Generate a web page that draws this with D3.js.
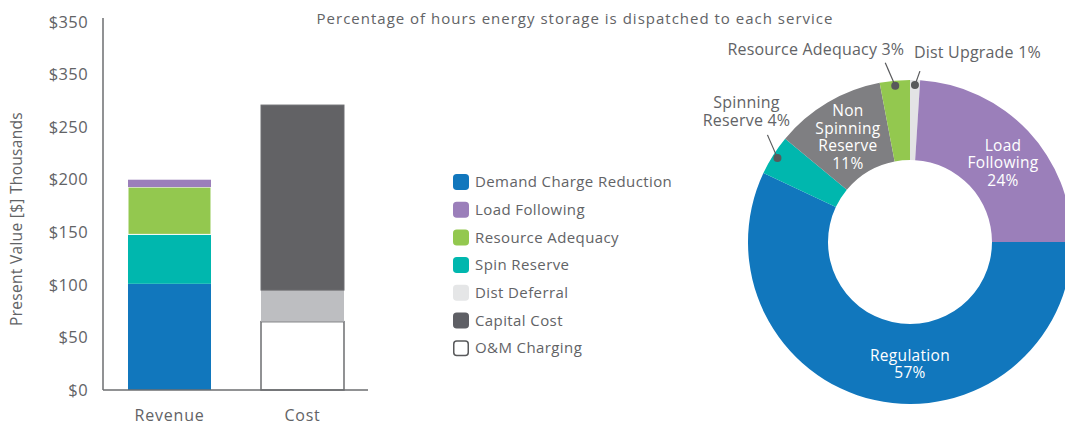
<!DOCTYPE html>
<html>
<head>
<meta charset="utf-8">
<script src="https://cdn.jsdelivr.net/npm/d3@7"></script>
<style>
    body { margin: 0; background: #fff; }
    svg { font-family: "Open Sans", sans-serif; }
</style>
</head>
<body>
<svg id="chart" width="1065" height="425"></svg>
<script>
// bar chart data (values in $ thousands)
const categories = ['Revenue', 'Cost'];
const seriesNames = ['Demand Charge Reduction', 'Spin Reserve', 'Resource Adequacy', 'Load Following',
    'O&M Charging', 'Dist Deferral', 'Capital Cost'];
const revenueValues = [101, 47, 45, 7, 0, 0, 0];
const costValues = [0, 0, 0, 0, 65, 30, 176];
const tickValues = [0, 50, 100, 150, 200, 250, 300, 350];
const tickLabels = ['$0', '$50', '$100', '$150', '$200', '$250', '$350', '$350'];

// legend order
const legendNames = ['Demand Charge Reduction', 'Load Following', 'Resource Adequacy', 'Spin Reserve',
    'Dist Deferral', 'Capital Cost', 'O&M Charging'];

// donut data
const serviceNames = ['Dist Upgrade', 'Load Following', 'Regulation', 'Spinning Reserve',
    'Non Spinning Reserve', 'Resource Adequacy'];
const servicePercents = [1, 24, 57, 4, 11, 3];

const title = 'Percentage of hours energy storage is dispatched to each service';

const barColors = {
    'Demand Charge Reduction': '#1177bd',
    'Load Following': '#9b7fba',
    'Resource Adequacy': '#93c84f',
    'Spin Reserve': '#00b7ae',
    'Dist Deferral': '#bdbec1',
    'Capital Cost': '#626265',
    'O&M Charging': '#ffffff'
};
const legendColors = Object.assign({}, barColors, { 'Dist Deferral': '#e5e6e7', 'Capital Cost': '#5e5f65' });

const pieColors = {
    'Dist Upgrade': '#e3e3e5',
    'Load Following': '#9b7fba',
    'Regulation': '#1177bd',
    'Spinning Reserve': '#00b7ae',
    'Non Spinning Reserve': '#7f7f82',
    'Resource Adequacy': '#93c84f'
};

const textColor = '#626366';
const axisColor = '#6d6e71';

const svg = d3.select('#chart');

// ---------- stacked bars ----------
const rows = categories.map((c, i) => {
    const vals = i === 0 ? revenueValues : costValues;
    const row = { category: c };
    seriesNames.forEach((s, j) => row[s] = vals[j]);
    return row;
});

const stacked = d3.stack().keys(seriesNames)(rows);

const x = d3.scaleBand()
    .domain(categories)
    .range([103, 369])
    .paddingInner(0.376)
    .paddingOuter(0.188);

const y = d3.scaleLinear()
    .domain([0, 350])
    .range([390, 22]);

const barG = svg.append('g');

stacked.forEach(layer => {
    barG.selectAll(null)
        .data(layer.filter(d => d[1] - d[0] > 0))
        .join('rect')
        .attr('x', d => x(d.data.category))
        .attr('width', x.bandwidth())
        .attr('y', d => y(d[1]))
        .attr('height', d => y(d[0]) - y(d[1]))
        .attr('fill', barColors[layer.key])
        .attr('stroke', layer.key === 'O&M Charging' || layer.key === 'Capital Cost' ? axisColor
            : (layer.key === 'Resource Adequacy' ? '#fff' : 'none'))
        .attr('stroke-width', layer.key === 'O&M Charging' ? 1.5 : 1);
});

// y axis (no tick marks)
const yAxis = svg.append('g')
    .attr('transform', 'translate(103,0)')
    .call(d3.axisLeft(y).tickValues(tickValues).tickSize(0).tickPadding(15)
        .tickFormat((d, i) => tickLabels[i]));
yAxis.select('.domain').attr('stroke', axisColor).attr('stroke-width', 1.5).attr('d', 'M0,18V390');
yAxis.selectAll('text')
    .attr('fill', textColor)
    .style('font-family', '"Open Sans", sans-serif')
    .style('font-size', '16.5px')
    .style('letter-spacing', '0.4px');

// x axis
const xAxis = svg.append('g')
    .attr('transform', 'translate(0,390)')
    .call(d3.axisBottom(x).tickSize(0).tickPadding(20));
xAxis.select('.domain').attr('stroke', axisColor).attr('stroke-width', 1.5).attr('d', 'M103,0H368');
xAxis.selectAll('text')
    .attr('fill', textColor)
    .style('font-family', '"Open Sans", sans-serif')
    .style('font-size', '16px')
    .style('letter-spacing', '0.8px');

// y axis title
svg.append('text')
    .attr('transform', 'translate(22,219) rotate(-90)')
    .attr('text-anchor', 'middle')
    .attr('fill', textColor)
    .style('font-size', '15.5px')
    .style('letter-spacing', '0.3px')
    .text('Present Value [$] Thousands');

// ---------- title ----------
svg.append('text')
    .attr('x', 575)
    .attr('y', 24)
    .attr('text-anchor', 'middle')
    .attr('fill', textColor)
    .style('font-size', '15px')
    .style('letter-spacing', '1px')
    .text(title);

// ---------- legend ----------
const legend = svg.append('g').attr('transform', 'translate(453,182)');
const legendItem = legend.selectAll('g')
    .data(legendNames)
    .join('g')
    .attr('transform', (d, i) => `translate(0, ${i * 27.7})`);

legendItem.append('rect')
    .attr('x', 0.75)
    .attr('y', -7.25)
    .attr('width', 14.5)
    .attr('height', 14.5)
    .attr('rx', 3)
    .attr('fill', d => legendColors[d])
    .attr('stroke', d => d === 'O&M Charging' ? '#58595b' : legendColors[d])
    .attr('stroke-width', 1.5);

legendItem.append('text')
    .attr('x', 22)
    .attr('dy', '0.35em')
    .attr('fill', textColor)
    .style('font-size', '15px')
    .style('letter-spacing', '0.4px')
    .text(d => d);

// ---------- donut ----------
const cx = 910, cy = 242, outerR = 162, innerR = 82;
const pieData = serviceNames.map((n, i) => ({ name: n, value: servicePercents[i] }));
const arcs = d3.pie().sort(null).value(d => d.value)(pieData);

const arc = d3.arc().innerRadius(innerR).outerRadius(outerR);
const donut = svg.append('g').attr('transform', `translate(${cx},${cy})`);

donut.selectAll('path')
    .data(arcs)
    .join('path')
    .attr('d', arc)
    .attr('fill', d => pieColors[d.data.name]);

// label text lines for each slice
const labelLines = {
    'Dist Upgrade': ['Dist Upgrade 1%'],
    'Load Following': ['Load', 'Following', '24%'],
    'Regulation': ['Regulation', '57%'],
    'Spinning Reserve': ['Spinning', 'Reserve 4%'],
    'Non Spinning Reserve': ['Non', 'Spinning', 'Reserve', '11%'],
    'Resource Adequacy': ['Resource Adequacy 3%']
};
const insideSlices = ['Load Following', 'Regulation', 'Non Spinning Reserve'];
const lineH = 17.5;
const labelR = 122;

arcs.filter(d => insideSlices.includes(d.data.name)).forEach(d => {
    let a = (d.startAngle + d.endAngle) / 2;
    if (d.data.name === 'Regulation') a = Math.PI;
    if (d.data.name === 'Load Following') a += 0.05;
    const px = labelR * Math.sin(a), py = -labelR * Math.cos(a);
    const lines = labelLines[d.data.name];
    const t = donut.append('text')
        .attr('text-anchor', 'middle')
        .attr('fill', '#fff')
        .style('font-size', '15.5px')
        .style('letter-spacing', '0.3px');
    lines.forEach((l, i) => {
        t.append('tspan')
            .attr('x', px)
            .attr('y', py + (i - (lines.length - 1) / 2) * lineH)
            .attr('dy', '0.35em')
            .text(l);
    });
});

// outside labels with leader lines
const callouts = {
    'Spinning Reserve': { dx: -10, dy: -23, tx: -21, ty: -9, anchor: 'middle' },
    'Resource Adequacy': { dx: -10, dy: -23, tx: 19, ty: -8, anchor: 'end' },
    'Dist Upgrade': { dx: 5, dy: -14, tx: -6, ty: -13, anchor: 'start' }
};
const dotR = 157;

arcs.filter(d => callouts[d.data.name]).forEach(d => {
    const c = callouts[d.data.name];
    const a = (d.startAngle + d.endAngle) / 2;
    const px = dotR * Math.sin(a), py = -dotR * Math.cos(a);
    const ex = px + c.dx, ey = py + c.dy;
    donut.append('line')
        .attr('x1', px).attr('y1', py)
        .attr('x2', ex).attr('y2', ey)
        .attr('stroke', '#58595b')
        .attr('stroke-width', 1.2);
    donut.append('circle')
        .attr('cx', px).attr('cy', py)
        .attr('r', 4)
        .attr('fill', '#58595b');
    const lines = labelLines[d.data.name];
    const t = donut.append('text')
        .attr('text-anchor', c.anchor)
        .attr('fill', textColor)
        .style('font-size', '16px')
        .style('letter-spacing', '0.2px');
    lines.forEach((l, i) => {
        t.append('tspan')
            .attr('x', ex + c.tx)
            .attr('y', ey + c.ty - (lines.length - 1 - i) * lineH)
            .text(l);
    });
});
</script>
</body>
</html>
